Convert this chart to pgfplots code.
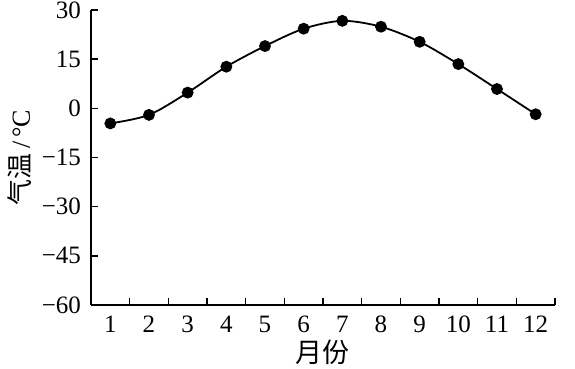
\documentclass[border=0pt]{standalone}
\usepackage{fontspec}
\setmainfont{Liberation Serif}
\newfontfamily\cjk{Noto Sans CJK SC}
\usepackage{pgfplots}
\pgfplotsset{compat=1.18}
\begin{document}
\begin{tikzpicture}
\useasboundingbox (-45.5pt,-32pt) rectangle (242pt,152.5pt);
\begin{axis}[
  scale only axis,
  width=232pt, height=147.5pt,
  at={(0,0)}, anchor=south west,
  xmin=0.5, xmax=12.5,
  ymin=-60, ymax=30,
  axis x line*=bottom, axis y line*=left,
  axis line style={line width=0.9pt},
  xtick={1,...,12},
  minor xtick={1.5,2.5,...,12.5},
  major x tick style={draw=none},
  minor tick length=3.5pt,
  major tick length=3.5pt,
  xtick align=inside,
  ytick align=inside,
  every tick/.style={line width=0.8pt, black},
  ytick={-60,-45,-30,-15,0,15,30},
  yticklabels={−60,−45,−30,−15,0,15,30},
  xticklabel style={font=\fontsize{12.5}{14}\selectfont, yshift=-1.8pt},
  yticklabel style={font=\fontsize{12.5}{14}\selectfont, xshift=-1.5pt},
  /pgf/number format/assume math mode=true,
  xlabel={{\cjk 月份}},
  xlabel style={font=\fontsize{13.5}{15}\selectfont, at={(axis description cs:0.5,0)}, anchor=center, yshift=-23.5pt},
  ylabel={{\cjk 气温}\,/\,°C},
  ylabel style={font=\fontsize{13}{15}\selectfont, at={([xshift=-35.5pt]axis description cs:0,0.5)}, anchor=center},
  clip=false,
]
\addplot[black, line width=0.9pt, smooth, tension=0.5, mark=*, mark size=2.5pt, mark options={solid, fill=black}]
coordinates {
(1,-4.6) (2,-2.0) (3,4.8) (4,12.7) (5,19.0) (6,24.3) (7,26.7) (8,24.9) (9,20.3) (10,13.5) (11,5.9) (12,-1.8)
};
\end{axis}
\end{tikzpicture}
\end{document}
